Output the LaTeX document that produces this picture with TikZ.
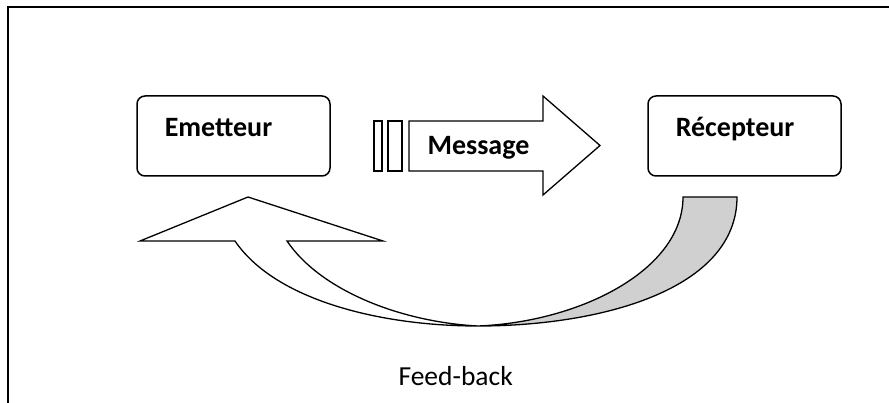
\documentclass[tikz,border=0pt]{standalone}
\usepackage{fontspec}
\setmainfont{Carlito}
\definecolor{backgray}{HTML}{D0D0D0}

\begin{document}
\begin{tikzpicture}[x=1pt, y=-1pt,
    nodes = {font=\fontsize{28}{34}\selectfont\bfseries},
    partner/.style = {draw, line width=1.5pt, rounded corners=8pt,
                      minimum width=193pt, minimum height=80pt},
    blockline/.style = {draw, line width=1.3pt, line join=miter}]
  \useasboundingbox (0,0) rectangle (889,403);
  % frame, open on the right and at the bottom
  \draw[line width=1.8pt] (8,403) -- (8,7) -- (889,7);
  % sender and receiver boxes, label in the upper left
  \foreach \cx/\name/\txt in {233.5/emet/Emetteur, 744.5/recep/Récepteur} {
    \node[partner] (\name) at (\cx,136) {};
    \node[anchor=base west] (\name-txt)
      at ([xshift=25pt,yshift=-41pt]\name.north west) {\txt};
  }
  % message: two thin bars, then the block arrow
  \draw[blockline] (374,121) rectangle (382,171);
  \draw[blockline] (388,121) rectangle (402,171);
  \draw[blockline] (409,121) -- (543,121) -- (543,96) -- (600,145.5)
    -- (543,195) -- (543,171) -- (409,171) -- cycle;
  \node[anchor=base west] (msg) at (424,155) {Message};
  % feed-back: the band turns over at its lowest point
  \coordinate (low) at (478,326);
  \filldraw[blockline, fill=backgray] (low)
    .. controls (580,322) and (683,270) .. (683,197) -- (737,197)
    .. controls (737,290) and (600,326) .. (low) -- cycle;
  \filldraw[blockline, fill=white] (low)
    .. controls (400,322) and (320,290) .. (287,241) -- (383,241)
    -- (248,197) -- (140,241) -- (235,241)
    .. controls (275,300) and (380,326) .. (low) -- cycle;
  \node[font=\fontsize{27.5}{33}\selectfont, anchor=base west] (fb)
    at (395,385) {Feed-back};
\end{tikzpicture}
\end{document}
